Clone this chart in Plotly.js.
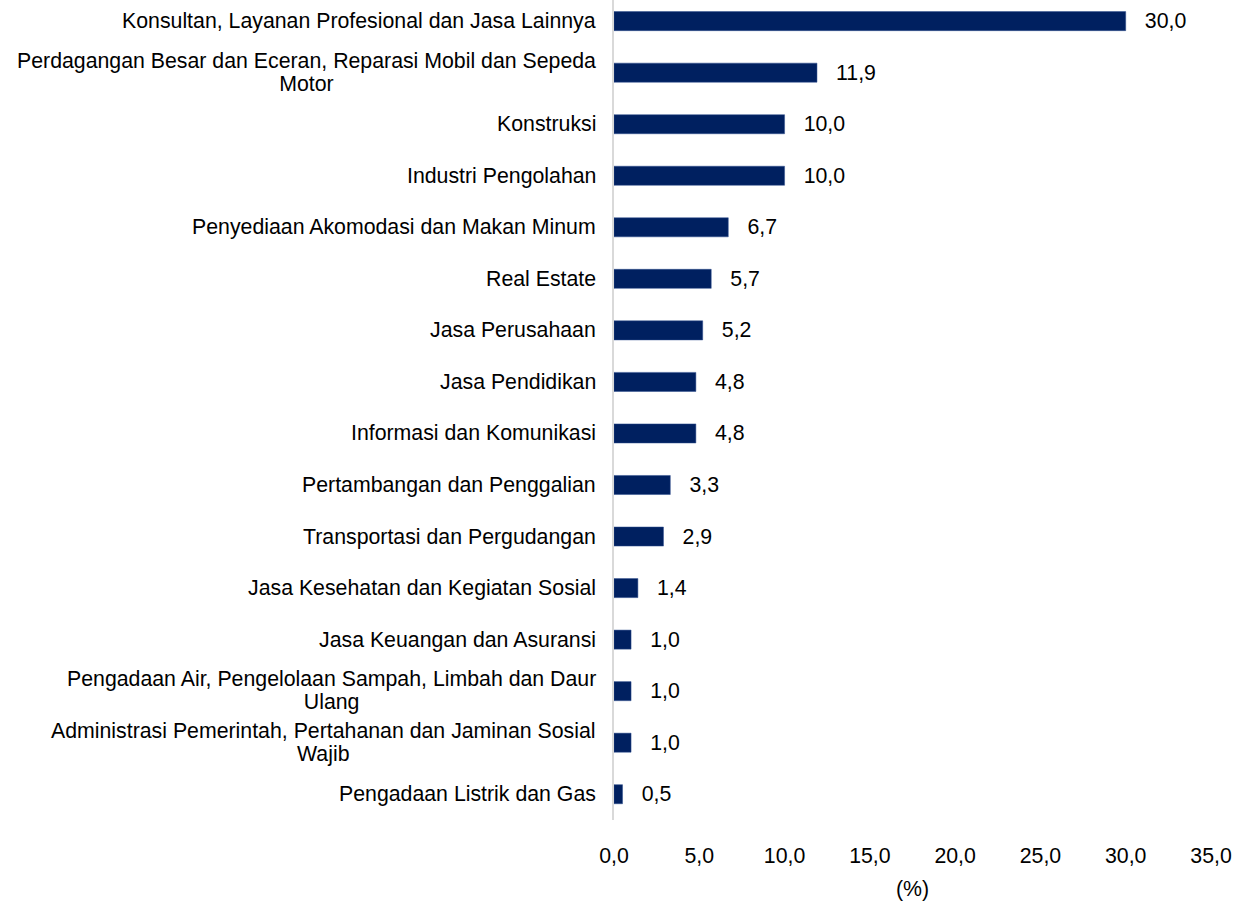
<!DOCTYPE html>
<html>
<head>
<meta charset="utf-8">
<script src="https://cdn.plot.ly/plotly-3.0.1.min.js"></script>
<style>html,body{margin:0;padding:0;background:#fff;}#chart{width:1238px;height:901px;}</style>
</head>
<body>
<div id="chart"></div>
<script>
const categories = [
  "Konsultan, Layanan Profesional dan Jasa Lainnya",
  "Perdagangan Besar dan Eceran, Reparasi Mobil dan Sepeda<br>Motor",
  "Konstruksi",
  "Industri Pengolahan",
  "Penyediaan Akomodasi dan Makan Minum",
  "Real Estate",
  "Jasa Perusahaan",
  "Jasa Pendidikan",
  "Informasi dan Komunikasi",
  "Pertambangan dan Penggalian",
  "Transportasi dan Pergudangan",
  "Jasa Kesehatan dan Kegiatan Sosial",
  "Jasa Keuangan dan Asuransi",
  "Pengadaan Air, Pengelolaan Sampah, Limbah dan Daur<br>Ulang",
  "Administrasi Pemerintah, Pertahanan dan Jaminan Sosial<br>Wajib",
  "Pengadaan Listrik dan Gas"
];
const values = [30.0, 11.9, 10.0, 10.0, 6.7, 5.7, 5.2, 4.8, 4.8, 3.3, 2.9, 1.4, 1.0, 1.0, 1.0, 0.5];
const tickValues = [0, 5, 10, 15, 20, 25, 30, 35];
const tickLabels = tickValues.map(v => v.toFixed(1).replace('.', ','));
const valueLabels = values.map(v => v.toFixed(1).replace('.', ','));

const FONT = "Arial, 'Liberation Sans', sans-serif";
const FS = 21.3;

const trace = {
  type: 'bar',
  orientation: 'h',
  x: values,
  y: categories,
  marker: {color: '#002060', line: {color: '#2f4f8f', width: 0.5}},
  text: valueLabels,
  texttemplate: '\u00a0\u00a0\u2009%{text}',
  textposition: 'outside',
  constraintext: 'none',
  cliponaxis: false,
  textfont: {family: FONT, size: FS, color: '#000'},
  hoverinfo: 'none'
};

const annotations = categories.map(c => ({
  x: 0, xref: 'paper', xanchor: 'right', xshift: -16,
  y: c, yref: 'y', yanchor: 'middle',
  text: c, showarrow: false, align: 'center',
  font: {family: FONT, size: FS, color: '#000'}
}));

const layout = {
  width: 1238, height: 901,
  margin: {l: 614, r: 27, t: 0, b: 81},
  paper_bgcolor: '#fff', plot_bgcolor: '#fff',
  showlegend: false,
  bargap: 0.63,
  font: {family: FONT, size: FS, color: '#000'},
  xaxis: {
    range: [0, 35],
    tickvals: tickValues, ticktext: tickLabels,
    showgrid: false, zeroline: false, showline: false,
    ticks: '', ticklabelstandoff: 21,
    tickfont: {family: FONT, size: FS, color: '#000'},
    title: {text: '(%)', font: {family: FONT, size: FS, color: '#000'}, standoff: 13}
  },
  yaxis: {
    type: 'category',
    categoryorder: 'array', categoryarray: categories,
    range: [15.5, -0.41],
    showticklabels: false, ticks: '',
    showgrid: false, zeroline: false,
    showline: true, linecolor: '#d9d9d9', linewidth: 2
  },
  annotations: annotations
};

Plotly.newPlot('chart', [trace], layout, {staticPlot: true, displayModeBar: false}).then(() => {
  // tighten line spacing of wrapped category labels (Excel-like ~1.08em)
  const LS = 1.08, PL = 1.3;
  document.querySelectorAll('#chart .annotation-text').forEach(t => {
    const lines = t.querySelectorAll('tspan.line');
    const n = lines.length;
    if (n > 1) {
      const off = (PL - LS) * (n - 1) / 2;
      lines.forEach((ln, k) => ln.setAttribute('dy', (k * LS + off) + 'em'));
    }
  });
});
</script>
</body>
</html>
